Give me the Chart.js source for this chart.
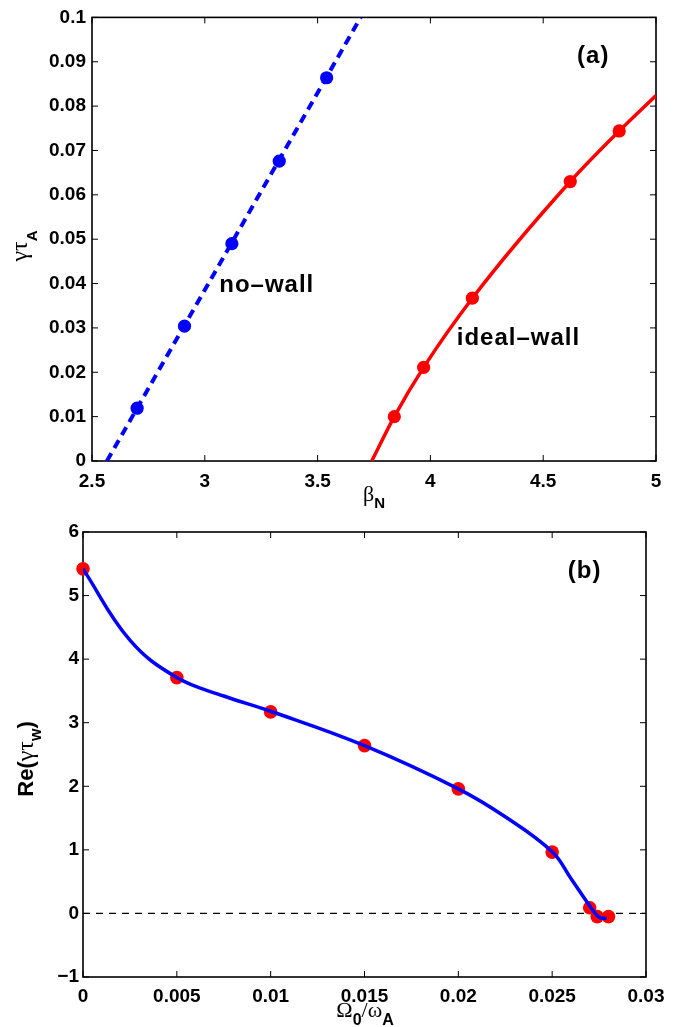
<!DOCTYPE html>
<html>
<head>
<meta charset="utf-8">
<script src="https://cdn.jsdelivr.net/npm/chart.js@4.4.0/dist/chart.umd.min.js"></script>
<style>
    body { margin: 0; background: #fff; }
    .panel { position: absolute; left: 0; }
</style>
</head>
<body>
<canvas id="grafico-a" class="panel" width="680" height="510" style="top:0"></canvas>
<canvas id="grafico-b" class="panel" width="680" height="517" style="top:510px"></canvas>
<script>
/* ── DATOS (a): tasa de crecimiento vs beta_N ── */
const noWallBeta     = [2.70, 2.91, 3.12, 3.33, 3.54];
const noWallGamma    = [0.0119, 0.0304, 0.0490, 0.0676, 0.0864];
const noWallFitBeta  = [2.566, 3.691];
const noWallFitGamma = [0, 0.1];

const idealBeta      = [3.84, 3.97, 4.186, 4.62, 4.837];
const idealGamma     = [0.0100, 0.0211, 0.0367, 0.0630, 0.0744];
const idealFitBeta   = [3.74, 3.84, 3.97, 4.186, 4.62, 4.837, 5.0];
const idealFitGamma  = [0, 0.0100, 0.0211, 0.0367, 0.0630, 0.0744, 0.0824];

const betaTicks       = [2.5, 3, 3.5, 4, 4.5, 5];
const betaTickLabels  = ['2.5', '3', '3.5', '4', '4.5', '5'];
const gammaTicks      = [0, 0.01, 0.02, 0.03, 0.04, 0.05, 0.06, 0.07, 0.08, 0.09, 0.1];
const gammaTickLabels = ['0', '0.01', '0.02', '0.03', '0.04', '0.05', '0.06', '0.07', '0.08', '0.09', '0.1'];

/* ── DATOS (b): Re(gamma tau_w) vs rotación ── */
const rotOmega  = [0, 0.005, 0.010, 0.015, 0.020, 0.025, 0.0270, 0.0274, 0.0280];
const rotRe     = [5.42, 3.71, 3.17, 2.64, 1.96, 0.965, 0.09, -0.05, -0.05];
const fitOmega  = [0, 0.0025, 0.005, 0.0075, 0.010, 0.015, 0.020, 0.0225, 0.025, 0.026, 0.027, 0.0275, 0.0279];
const fitRe     = [5.42, 4.30, 3.71, 3.42, 3.18, 2.64, 1.96, 1.52, 0.97, 0.55, 0.12, -0.06, -0.08];
const ceroOmega = [0, 0.03];
const ceroRe    = [0, 0];

const omegaTicks      = [0, 0.005, 0.01, 0.015, 0.02, 0.025, 0.03];
const omegaTickLabels = ['0', '0.005', '0.01', '0.015', '0.02', '0.025', '0.03'];
const reTicks         = [-1, 0, 1, 2, 3, 4, 5, 6];
const reTickLabels    = ['\u22121', '0', '1', '2', '3', '4', '5', '6'];

const pares = (xs, ys) => xs.map((x, i) => ({ x, y: ys[i] }));

const SANS  = "'Liberation Sans', Arial, sans-serif";
const SERIF = "'Liberation Serif', 'Times New Roman', serif";

// texto con subíndices (partes con desplazamiento vertical)
function textoRico(ctx, partes, x, y, rotar) {
    ctx.save();
    ctx.translate(x, y);
    if (rotar) ctx.rotate(-Math.PI / 2);
    ctx.textAlign = 'left';
    ctx.textBaseline = 'alphabetic';
    ctx.fillStyle = '#000';
    let total = 0;
    partes.forEach(p => { ctx.font = p.f; total += ctx.measureText(p.t).width; });
    let cx = -total / 2;
    partes.forEach(p => {
        ctx.font = p.f;
        ctx.fillText(p.t, cx, p.dy || 0);
        cx += ctx.measureText(p.t).width;
    });
    ctx.restore();
}

// caja estilo MATLAB con marcas hacia dentro
const marcoPlugin = {
    id: 'marco',
    beforeDatasetsDraw(chart) {
        const { ctx, chartArea: a, scales: { x, y } } = chart;
        const tl = 6;
        ctx.save();
        ctx.strokeStyle = '#000';
        ctx.lineWidth = 1;
        ctx.beginPath();
        x.ticks.forEach(t => {
            const px = x.getPixelForValue(t.value);
            ctx.moveTo(px, a.bottom); ctx.lineTo(px, a.bottom - tl);
            ctx.moveTo(px, a.top);    ctx.lineTo(px, a.top + tl);
        });
        y.ticks.forEach(t => {
            const py = y.getPixelForValue(t.value);
            ctx.moveTo(a.left, py);  ctx.lineTo(a.left + tl, py);
            ctx.moveTo(a.right, py); ctx.lineTo(a.right - tl, py);
        });
        ctx.stroke();
        ctx.lineWidth = 1.6;
        ctx.strokeRect(a.left, a.top, a.right - a.left, a.bottom - a.top);
        ctx.restore();
    },
    afterDraw(chart, args, opts) {
        const { ctx, scales: { x, y } } = chart;
        (opts.notas || []).forEach(n => {
            ctx.save();
            ctx.font = 'bold 24px ' + SANS;
            ctx.letterSpacing = '1px';
            ctx.fillStyle = '#000';
            ctx.textAlign = 'left';
            ctx.textBaseline = 'alphabetic';
            ctx.fillText(n.t, x.getPixelForValue(n.x), y.getPixelForValue(n.y));
            ctx.restore();
        });
        (opts.titulos || []).forEach(tt => textoRico(ctx, tt.partes, tt.x, tt.y, tt.rotar));
    }
};

function escala(valores, etiquetas, ancho, alto, padding) {
    return {
        type: 'linear',
        min: valores[0],
        max: valores[valores.length - 1],
        afterBuildTicks: s => { s.ticks = valores.map(v => ({ value: v })); },
        afterFit: s => {
            if (ancho) s.width = ancho;
            if (alto) s.height = alto;
        },
        grid: { display: false, drawTicks: false },
        border: { display: false },
        ticks: {
            autoSkip: false,
            maxRotation: 0,
            padding: padding,
            color: '#000',
            font: { family: SANS, size: 19, weight: 'bold' },
            callback: (v, i) => etiquetas[i]
        }
    };
}

document.addEventListener('DOMContentLoaded', () => {

    // ── (a) ─────────────────────────────
    new Chart(document.getElementById('grafico-a'), {
        type: 'scatter',
        data: {
            datasets: [
                { data: pares(noWallBeta, noWallGamma), backgroundColor: '#0000ff', pointRadius: 6.6, borderWidth: 0, order: 0 },
                { data: pares(idealBeta, idealGamma), backgroundColor: '#ff0000', pointRadius: 6.6, borderWidth: 0, order: 0 },
                { data: pares(noWallFitBeta, noWallFitGamma), showLine: true, pointRadius: 0, borderColor: '#0000ff',
                  borderWidth: 4, borderDash: [9, 6], order: 1 },
                { data: pares(idealFitBeta, idealFitGamma), showLine: true, pointRadius: 0, borderColor: '#ff0000',
                  borderWidth: 3.5, cubicInterpolationMode: 'monotone', order: 1 }
            ]
        },
        options: {
            responsive: false,
            animation: false,
            layout: { padding: { top: 16, right: 24, left: 0, bottom: 0 } },
            scales: {
                x: escala(betaTicks, betaTickLabels, 0, 49, 9),
                y: escala(gammaTicks, gammaTickLabels, 92, 0, 6)
            },
            plugins: {
                legend: { display: false },
                tooltip: { enabled: false },
                marco: {
                    notas: [
                        { t: '(a)', x: 4.65, y: 0.0897 },
                        { t: 'no\u2013wall', x: 3.064, y: 0.038 },
                        { t: 'ideal\u2013wall', x: 4.117, y: 0.0262 }
                    ],
                    titulos: [
                        { x: 374, y: 501, partes: [
                            { t: '\u03b2', f: '22px ' + SERIF },
                            { t: 'N', f: 'bold 15px ' + SANS, dy: 7 } ] },
                        { x: 27, y: 246, rotar: true, partes: [
                            { t: '\u03b3\u03c4', f: '24px ' + SERIF },
                            { t: 'A', f: 'bold 15px ' + SANS, dy: 10 } ] }
                    ]
                }
            }
        },
        plugins: [marcoPlugin]
    });

    // ── (b) ─────────────────────────────
    new Chart(document.getElementById('grafico-b'), {
        type: 'scatter',
        data: {
            datasets: [
                { data: pares(fitOmega, fitRe), showLine: true, pointRadius: 0, borderColor: '#0000ff',
                  borderWidth: 3.5, tension: 0.4, order: 0 },
                { data: pares(rotOmega, rotRe), backgroundColor: '#ff0000', pointRadius: 6.8, borderWidth: 0,
                  clip: false, order: 1 },
                { data: pares(ceroOmega, ceroRe), showLine: true, pointRadius: 0, borderColor: '#000',
                  borderWidth: 1.2, borderDash: [7, 6], order: 2 }
            ]
        },
        options: {
            responsive: false,
            animation: false,
            layout: { padding: { top: 22, right: 34, left: 0, bottom: 0 } },
            scales: {
                x: escala(omegaTicks, omegaTickLabels, 0, 50, 8),
                y: escala(reTicks, reTickLabels, 83, 0, 4)
            },
            plugins: {
                legend: { display: false },
                tooltip: { enabled: false },
                marco: {
                    notas: [ { t: '(b)', x: 0.02583, y: 5.28 } ],
                    titulos: [
                        { x: 365, y: 507, partes: [
                            { t: '\u03a9', f: '22px ' + SERIF },
                            { t: '0', f: 'bold 16px ' + SANS, dy: 8 },
                            { t: '/\u03c9', f: '22px ' + SERIF },
                            { t: 'A', f: 'bold 16px ' + SANS, dy: 8 } ] },
                        { x: 33, y: 249, rotar: true, partes: [
                            { t: 'Re(', f: 'bold 22px ' + SANS },
                            { t: '\u03b3\u03c4', f: '24px ' + SERIF },
                            { t: 'w', f: 'bold 16px ' + SANS, dy: 8 },
                            { t: ')', f: 'bold 22px ' + SANS } ] }
                    ]
                }
            }
        },
        plugins: [marcoPlugin]
    });

});
</script>
</body>
</html>
